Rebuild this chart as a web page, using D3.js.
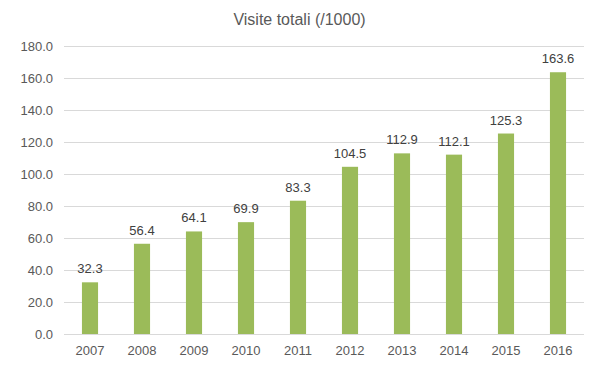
<!DOCTYPE html>
<html>
<head>
<meta charset="utf-8">
<script src="https://cdn.jsdelivr.net/npm/d3@7"></script>
<style>
  body { margin: 0; background: #fff; }
  svg { display: block; font-family: "Liberation Sans", Arial, sans-serif; }
</style>
</head>
<body>
<div id="chart"></div>
<script>
var years = ["2007", "2008", "2009", "2010", "2011", "2012", "2013", "2014", "2015", "2016"];
var visite = [32.3, 56.4, 64.1, 69.9, 83.3, 104.5, 112.9, 112.1, 125.3, 163.6];
var yTicks = [0, 20, 40, 60, 80, 100, 120, 140, 160, 180];

var width = 599, height = 378;
var margin = { top: 46, right: 15, bottom: 44, left: 64 };
var innerW = width - margin.left - margin.right,
    innerH = height - margin.top - margin.bottom;

var svg = d3.select("#chart")
    .append("svg")
    .attr("width", width)
    .attr("height", height);

svg.append("text")
    .attr("x", width / 2 + 0)
    .attr("y", 25)
    .attr("text-anchor", "middle")
    .attr("fill", "#595959")
    .attr("font-size", "16px")
    .text("Visite totali (/1000)");

var g = svg.append("g")
    .attr("transform", "translate(" + margin.left + "," + margin.top + ")");

var x = d3.scaleBand()
    .domain(years)
    .range([0, innerW])
    .paddingInner(0.69)
    .paddingOuter(0.345);

var y = d3.scaleLinear()
    .domain([0, 180])
    .range([innerH, 0]);

// grid lines
g.selectAll(".grid")
    .data(yTicks)
    .enter()
    .append("line")
    .attr("class", "grid")
    .attr("x1", 0)
    .attr("x2", innerW)
    .attr("y1", function (d) { return Math.round(y(d)) + 0.5; })
    .attr("y2", function (d) { return Math.round(y(d)) + 0.5; })
    .attr("stroke", "#d9d9d9")
    .attr("stroke-width", 1);

var yAxis = d3.axisLeft(y)
    .tickValues(yTicks)
    .tickSize(0)
    .tickPadding(11)
    .tickFormat(d3.format(".1f"));

var gy = g.append("g").call(yAxis);
gy.select(".domain").remove();
gy.selectAll("text")
    .attr("fill", "#595959")
    .attr("font-size", "13px")
    .attr("font-family", "Liberation Sans, Arial, sans-serif");

var xAxis = d3.axisBottom(x)
    .tickSize(0)
    .tickPadding(12);

var gx = g.append("g")
    .attr("transform", "translate(0," + innerH + ")")
    .call(xAxis);
gx.select(".domain").remove();
gx.selectAll("text")
    .attr("fill", "#595959")
    .attr("font-size", "13px")
    .attr("font-family", "Liberation Sans, Arial, sans-serif");

var bars = g.selectAll(".bar")
    .data(visite)
    .enter()
    .append("g");

bars.append("rect")
    .attr("class", "bar")
    .attr("x", function (d, i) { return x(years[i]); })
    .attr("y", function (d) { return y(d); })
    .attr("width", x.bandwidth())
    .attr("height", function (d) { return innerH - y(d); })
    .attr("fill", "#9bbb59");

bars.append("text")
    .attr("x", function (d, i) { return x(years[i]) + x.bandwidth() / 2; })
    .attr("y", function (d) { return y(d) - 9; })
    .attr("text-anchor", "middle")
    .attr("fill", "#404040")
    .attr("font-size", "13px")
    .text(function (d) { return d.toFixed(1); });
</script>
</body>
</html>
